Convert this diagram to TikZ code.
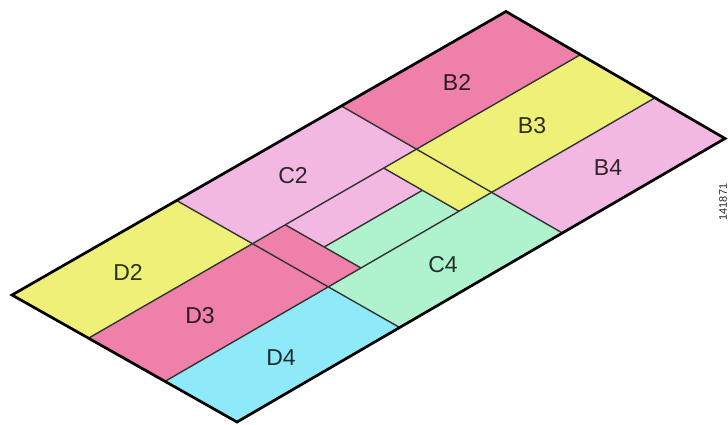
\documentclass[tikz,border=0pt]{standalone}
\usepackage{fontspec}
\setmainfont{Liberation Sans}
\definecolor{ycol}{RGB}{238,240,120}
\definecolor{mcol}{RGB}{238,128,170}
\definecolor{pcol}{RGB}{242,184,226}
\definecolor{gcol}{RGB}{174,242,206}
\definecolor{ccol}{RGB}{142,234,248}
\newcommand\cell[5]{\fill[#1] (p#2#4) -- (p#3#4) -- (p#3#5) -- (p#2#5) -- cycle;}
\begin{document}
\begin{tikzpicture}[x=1pt,y=-1pt,
  lab/.style={font=\fontsize{23}{27}\selectfont, text=black, text opacity=0.8, inner sep=0pt},
  innerline/.style={draw=black!80, line width=1.4pt, line join=round},
  outerline/.style={draw=black, line width=2.7pt, line join=miter}]
\useasboundingbox (0,0) rectangle (728,425);
% grid points by bilinear interpolation of the corners L, T, R, B
\foreach \i/\sv in {0/0,1/0.3333,2/0.40,3/0.60,4/0.6667,5/1}{
  \foreach \j/\tv in {0/0,1/0.34,2/0.515,3/0.68,4/1}{
    \pgfmathsetmacro\gx{(1-\sv)*(1-\tv)*12+\sv*(1-\tv)*506+\sv*\tv*725+(1-\sv)*\tv*237}
    \pgfmathsetmacro\gy{(1-\sv)*(1-\tv)*295+\sv*(1-\tv)*11.5+\sv*\tv*138.5+(1-\sv)*\tv*422}
    \coordinate (p\i\j) at (\gx,\gy);
  }}
% fills
\cell{ycol}{0}{1}{0}{1}
\cell{mcol}{0}{1}{1}{3}
\cell{ccol}{0}{1}{3}{4}
\cell{pcol}{1}{4}{0}{1}
\cell{mcol}{1}{2}{1}{3}
\cell{pcol}{2}{3}{1}{2}
\cell{gcol}{2}{3}{2}{3}
\cell{ycol}{3}{4}{1}{3}
\cell{gcol}{1}{4}{3}{4}
\cell{mcol}{4}{5}{0}{1}
\cell{ycol}{4}{5}{1}{3}
\cell{pcol}{4}{5}{3}{4}
% inner lines
\draw[innerline] (p10) -- (p14);
\draw[innerline] (p40) -- (p44);
\draw[innerline] (p01) -- (p51);
\draw[innerline] (p03) -- (p53);
\draw[innerline] (p21) -- (p23);
\draw[innerline] (p31) -- (p33);
\draw[innerline] (p22) -- (p32);
% outer border
\draw[outerline] (p00) -- (p50) -- (p54) -- (p04) -- cycle;
% labels
\node[lab] (B2) at (457,82) {B2};
\node[lab] (B3) at (532,126) {B3};
\node[lab] (B4) at (608,168) {B4};
\node[lab] (C2) at (293,176) {C2};
\node[lab] (C4) at (443,265) {C4};
\node[lab] (D2) at (128,272) {D2};
\node[lab] (D3) at (200,316) {D3};
\node[lab] (D4) at (281,358) {D4};
\node[font=\fontsize{11}{12}\selectfont, rotate=90, text=black!85, inner sep=0pt] (fig) at (723,202) {141871};
\end{tikzpicture}
\end{document}
